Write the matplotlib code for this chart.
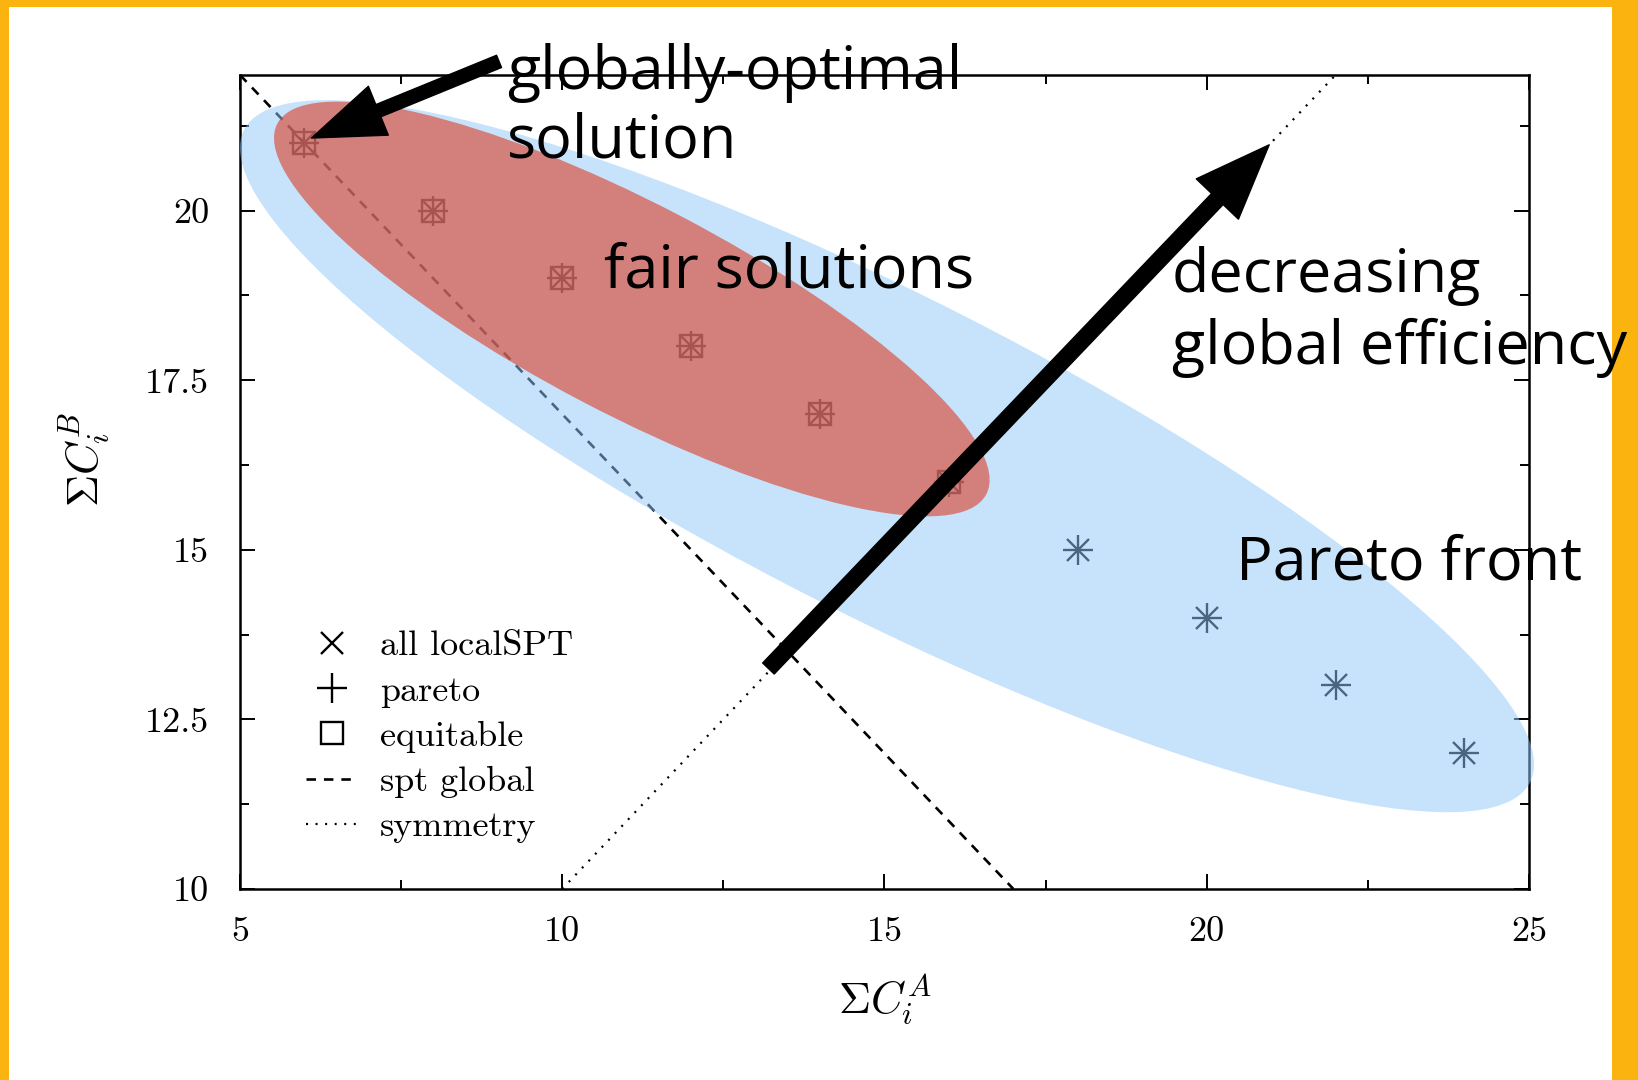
import matplotlib
matplotlib.use("Agg")
import matplotlib.pyplot as plt
from matplotlib.lines import Line2D
from matplotlib.patches import Ellipse, FancyArrowPatch, Rectangle
from matplotlib.transforms import Affine2D

plt.rcParams['font.family'] = 'cmr10'
plt.rcParams['mathtext.fontset'] = 'cm'
plt.rcParams['axes.unicode_minus'] = False

# solutions: total cost for A vs total cost for B
equitable_a = [6, 8, 10, 12, 14, 16]
equitable_b = [21, 20, 19, 18, 17, 16]
pareto_a = [6, 8, 10, 12, 14, 16, 18, 20, 22, 24]
pareto_b = [21, 20, 19, 18, 17, 16, 15, 14, 13, 12]
local_a = pareto_a
local_b = pareto_b

spt_a = [5, 17]
spt_b = [22, 10]
sym_a = [10, 22]
sym_b = [10, 22]

xticks = [5, 10, 15, 20, 25]
yticks = [10, 12.5, 15, 17.5, 20]
xtick_labels = ['5', '10', '15', '20', '25']
ytick_labels = ['10', '12.5', '15', '17.5', '20']

W, H = 1638, 1080
fig = plt.figure(figsize=(W / 100, H / 100), dpi=100)
ax = fig.add_axes([0.1465, 0.1769, 0.7869, 0.7537])

MEW = 1.7
ax.plot(spt_a, spt_b, color='black', lw=1.9, dashes=(3.6, 3), zorder=1.5)
ax.plot(sym_a, sym_b, color='black', lw=1.6, dashes=(0.9, 3.4), zorder=1.5)
ax.plot(local_a, local_b, 'x', color='black', ms=15.5, mew=MEW, zorder=2)
ax.plot(pareto_a, pareto_b, '+', color='black', ms=22, mew=MEW, zorder=2)
ax.plot(equitable_a, equitable_b, 's', mfc='none', mec='black', ms=15.5, mew=MEW, zorder=2)

ax.set_xlim(5, 25)
ax.set_ylim(10, 22)
ax.set_xticks(xticks)
ax.set_xticklabels(xtick_labels)
ax.set_yticks(yticks)
ax.set_yticklabels(ytick_labels)
ax.set_xticks([7.5, 12.5, 17.5, 22.5], minor=True)
ax.set_yticks([11.25, 13.75, 16.25, 18.75, 21.25], minor=True)
ax.tick_params(which='both', direction='in', top=True, right=True, width=1.4, labelsize=26)
ax.tick_params(which='major', length=11)
ax.tick_params(which='minor', length=6.5)
ax.tick_params(axis='x', pad=20)
ax.tick_params(axis='y', pad=22)
for sp in ax.spines.values():
    sp.set_linewidth(1.8)

ax.set_xlabel(r'$\Sigma C_i^A$', fontsize=32, va='center')
ax.xaxis.set_label_coords(0.5, -0.135)
ax.set_ylabel(r'$\Sigma C_i^B$', fontsize=32, va='center')
ax.yaxis.set_label_coords(-0.121, 0.527)

handles = [
    Line2D([], [], ls='none', marker='x', color='black', ms=15.5, mew=MEW),
    Line2D([], [], ls='none', marker='+', color='black', ms=22, mew=MEW),
    Line2D([], [], ls='none', marker='s', mfc='none', mec='black', ms=15.5, mew=MEW),
    Line2D([], [], color='black', lw=1.9, dashes=(3.6, 3)),
    Line2D([], [], color='black', lw=1.6, dashes=(0.9, 3.4)),
]
labels = ['all localSPT', 'pareto', 'equitable', 'spt global', 'symmetry']
leg = ax.legend(handles, labels, loc='center left', bbox_to_anchor=(0.051, 0.187),
                frameon=False, fontsize=26, handlelength=1.45, handletextpad=0.6,
                labelspacing=0.36, borderpad=0, borderaxespad=0)
leg.set_zorder(5)

# shaded regions, sized in pixels and mapped onto the data axes
sx = ax.get_position().width * W / 20
sy = ax.get_position().height * H / 12


def region(cx, cy, a, b, angle, color, alpha):
    tr = Affine2D().scale(1 / sx, 1 / sy).translate(cx, cy) + ax.transData
    e = Ellipse((0, 0), 2 * a, 2 * b, angle=angle, transform=tr,
                facecolor=color, edgecolor='none', alpha=alpha, zorder=3, clip_on=False)
    ax.add_patch(e)


region(15.04, 16.38, 721, 160, -26.9, '#91c8fb', 0.51)
region(11.08, 18.55, 400, 105, -27.6, '#da4a38', 0.65)


def arrow(tail, tip, hl, hw, tw):
    style = 'simple,head_length=%g,head_width=%g,tail_width=%g' % (hl, hw, tw)
    p = FancyArrowPatch(tail, tip, arrowstyle=style, mutation_scale=1,
                        color='black', shrinkA=0, shrinkB=0, zorder=6,
                        transform=ax.transData, clip_on=False)
    ax.add_patch(p)


arrow((9.02, 22.2), (6.11, 21.07), 52, 38, 9.5)
arrow((13.2, 13.25), (20.97, 20.97), 54, 42, 11.5)

# orange frame
orange = '#fbb30f'
for x0, y0, w, h in [(0, 0, 9, H), (1612, 0, W - 1612, H), (0, H - 7, W, 7)]:
    fig.patches.append(Rectangle((x0 / W, y0 / H), w / W, h / H, transform=fig.transFigure,
                                 facecolor=orange, edgecolor='none', zorder=1))

note = dict(family='Open Sans', fontsize=44, color='black', zorder=10)
fig.text(507 / W, 1 - 89 / H, 'globally-optimal', **note)
fig.text(507 / W, 1 - 157 / H, 'solution', **note)
fig.text(604 / W, 1 - 287 / H, 'fair solutions', **note)
fig.text(1172 / W, 1 - 292 / H, 'decreasing', **note)
fig.text(1172 / W, 1 - 364 / H, 'global efficiency', **note)
fig.text(1236 / W, 1 - 580 / H, 'Pareto front', **note)

fig.savefig('out.png', dpi=100)
